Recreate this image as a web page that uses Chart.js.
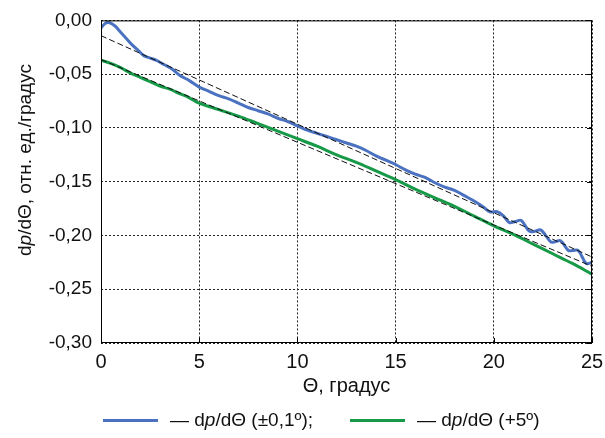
<!DOCTYPE html>
<html>
<head>
<meta charset="utf-8">
<script src="https://cdn.jsdelivr.net/npm/chart.js@4"></script>
<style>
    body { margin: 0; background: #fff; font-family: "Liberation Sans", Arial, sans-serif; color: #111; }
    #wrap { position: relative; width: 605px; height: 438px; }
    #yTitle {
        position: absolute; left: 25px; top: 160px;
        transform: translate(-50%, -50%) rotate(-90deg);
        white-space: nowrap; font-size: 19px;
    }
    .lg-line { position: absolute; height: 3px; width: 55px; top: 419px; }
    .lg-text { position: absolute; top: 409px; font-size: 19px; white-space: nowrap; line-height: 22px; }
</style>
</head>
<body>
<div id="wrap">
    <canvas id="chart"></canvas>
    <div id="yTitle">d<i>p</i>/dΘ, отн. ед./градус</div>
    <div class="lg-line" id="lgBlue" style="left:103px"></div>
    <div class="lg-text" style="left:170px">— d<i>p</i>/dΘ (±0,1º);</div>
    <div class="lg-line" id="lgGreen" style="left:350px"></div>
    <div class="lg-text" style="left:417px">— d<i>p</i>/dΘ (+5º)</div>
</div>
<script>
const blueColor = "#4a72c0";
const greenColor = "#179a48";

// dp/dΘ (±0,1º)
const blueTheta = [0, 0.2, 0.4, 0.7, 1.0, 1.3, 1.6, 1.9, 2.2, 2.5, 2.8, 3.2, 3.6, 4.0, 4.5,
    5.0, 5.5, 6.0, 6.5, 7.0, 7.5, 8.0, 8.5, 9.0, 9.5, 10.0, 10.5, 11.0, 11.5, 12.0, 12.5,
    13.0, 13.5, 14.0, 14.5, 15.0, 15.5, 16.0, 16.5, 17.0, 17.5, 18.0, 18.5, 19.0, 19.5,
    19.8, 20.2, 20.5, 20.8, 21.1, 21.4, 21.8, 22.1, 22.4, 22.9, 23.1, 23.4, 23.8, 24.0,
    24.3, 24.7, 25.0];
const blueValues = [-0.007, -0.003, -0.002, -0.005, -0.011, -0.017, -0.023, -0.028, -0.033,
    -0.035, -0.037, -0.041, -0.045, -0.051, -0.056, -0.062, -0.066, -0.070, -0.073, -0.077,
    -0.081, -0.084, -0.087, -0.091, -0.094, -0.098, -0.102, -0.105, -0.108, -0.111, -0.114,
    -0.117, -0.121, -0.126, -0.130, -0.134, -0.139, -0.143, -0.146, -0.151, -0.155, -0.158,
    -0.163, -0.168, -0.174, -0.178, -0.178, -0.182, -0.188, -0.187, -0.186, -0.196, -0.196,
    -0.195, -0.206, -0.206, -0.205, -0.214, -0.214, -0.214, -0.226, -0.225];

// dp/dΘ (+5º)
const greenTheta = [0, 0.5, 1.0, 1.5, 2.0, 2.5, 3.0, 3.5, 4.0, 4.5, 5.0, 6.0, 7.0, 8.0, 9.0,
    10.0, 11.0, 12.0, 13.0, 14.0, 15.0, 16.0, 17.0, 18.0, 19.0, 20.0, 21.0, 22.0, 23.0, 24.0, 25.0];
const greenValues = [-0.037, -0.040, -0.044, -0.049, -0.053, -0.057, -0.061, -0.064, -0.068,
    -0.072, -0.077, -0.083, -0.089, -0.096, -0.103, -0.110, -0.117, -0.125, -0.132, -0.140,
    -0.148, -0.157, -0.165, -0.173, -0.182, -0.191, -0.199, -0.208, -0.217, -0.226, -0.236];

// linear fits (dashed)
const fitTheta = [0, 25];
const blueFit = [-0.0142, -0.220];
const greenFit = [-0.0364, -0.2287];

const xTicks = [0, 5, 10, 15, 20, 25];
const yTicks = [0, -0.05, -0.10, -0.15, -0.20, -0.25, -0.30];

const toPoints = (xs, ys) => xs.map((x, i) => ({ x: x, y: ys[i] }));

document.getElementById("lgBlue").style.background = blueColor;
document.getElementById("lgGreen").style.background = greenColor;

Chart.defaults.font.family = '"Liberation Sans", Arial, sans-serif';
Chart.defaults.color = "#111";

const frame = {
    id: "frame",
    afterDraw(chart) {
        const { ctx, chartArea: a, scales } = chart;
        ctx.save();
        ctx.strokeStyle = "#000";
        ctx.lineWidth = 1;
        ctx.setLineDash([]);
        ctx.strokeRect(a.left + 0.5, a.top + 0.5, a.right - a.left - 1, a.bottom - a.top - 1);
        ctx.beginPath();
        scales.x.ticks.forEach(t => {
            const px = Math.round(scales.x.getPixelForValue(t.value)) + 0.5;
            ctx.moveTo(px, a.bottom);
            ctx.lineTo(px, a.bottom - 5);
        });
        scales.y.ticks.forEach(t => {
            const py = Math.round(scales.y.getPixelForValue(t.value)) + 0.5;
            ctx.moveTo(a.right, py);
            ctx.lineTo(a.right - 5, py);
        });
        ctx.stroke();
        ctx.restore();
    }
};

new Chart(document.getElementById("chart"), {
    type: "line",
    data: {
        datasets: [
            {
                data: toPoints(blueTheta, blueValues),
                borderColor: blueColor, borderWidth: 3, tension: 0.35,
                pointRadius: 0, order: 2
            },
            {
                data: toPoints(greenTheta, greenValues),
                borderColor: greenColor, borderWidth: 3, tension: 0.35,
                pointRadius: 0, order: 2
            },
            {
                data: toPoints(fitTheta, blueFit),
                borderColor: "#111", borderWidth: 1, borderDash: [6, 3],
                pointRadius: 0, order: 1
            },
            {
                data: toPoints(fitTheta, greenFit),
                borderColor: "#111", borderWidth: 1, borderDash: [6, 3],
                pointRadius: 0, order: 1
            }
        ]
    },
    options: {
        responsive: true,
        maintainAspectRatio: false,
        animation: false,
        layout: { padding: { left: 0, top: 19, right: 13, bottom: 0 } },
        plugins: { legend: { display: false }, tooltip: { enabled: false } },
        scales: {
            x: {
                type: "linear", min: 0, max: 25,
                afterFit: s => { s.height = 95; s.paddingLeft = 0; s.paddingRight = 0; },
                afterBuildTicks: s => { s.ticks = xTicks.map(v => ({ value: v })); },
                grid: { color: "#222", lineWidth: 1, drawTicks: false },
                border: { display: false, dash: [2, 2] },
                ticks: { padding: 7, font: { size: 20 }, callback: v => String(v) },
                title: {
                    display: true, text: "Θ, градус", font: { size: 20 },
                    padding: { top: 0, bottom: 40 }
                }
            },
            y: {
                min: -0.30, max: 0,
                afterFit: s => { s.width = 101; },
                afterBuildTicks: s => { s.ticks = yTicks.map(v => ({ value: v })); },
                grid: { color: "#222", lineWidth: 1, drawTicks: false },
                border: { display: false, dash: [2, 2] },
                ticks: {
                    padding: 9, font: { size: 19 },
                    callback: v => (Math.round(v * 100) / 100).toFixed(2).replace(".", ",").replace("-0,00", "0,00")
                }
            }
        }
    },
    plugins: [frame]
});
</script>
</body>
</html>
